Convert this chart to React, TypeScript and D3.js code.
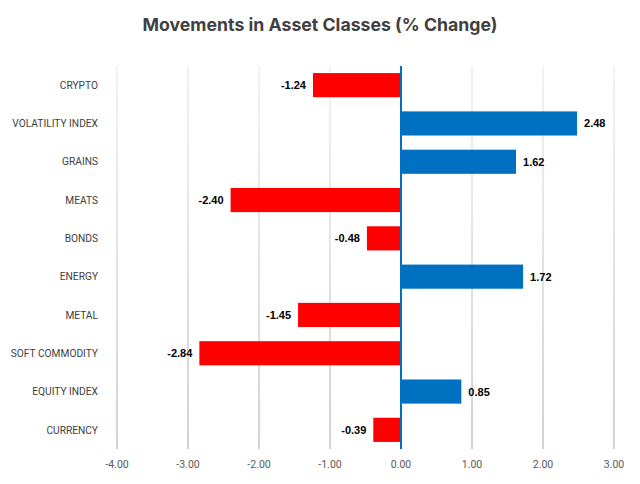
import React from "react";
import * as d3 from "d3";

const categories = [
  "CRYPTO",
  "VOLATILITY INDEX",
  "GRAINS",
  "MEATS",
  "BONDS",
  "ENERGY",
  "METAL",
  "SOFT COMMODITY",
  "EQUITY INDEX",
  "CURRENCY",
];
const values = [-1.24, 2.48, 1.62, -2.4, -0.48, 1.72, -1.45, -2.84, 0.85, -0.39];
const xTicks = [-4, -3, -2, -1, 0, 1, 2, 3];
const title = "Movements in Asset Classes (% Change)";

const W = 640;
const H = 484;
const margin = { left: 117, right: 26, top: 66, bottom: 35 };

const fmt = (v: number) => v.toFixed(2);

export default function App() {
  const x = d3.scaleLinear().domain([-4, 3]).range([margin.left, W - margin.right]);
  const y = d3
    .scaleBand<string>()
    .domain(categories)
    .range([margin.top, H - margin.bottom])
    .paddingInner(0.37)
    .paddingOuter(0.185);
  const top = margin.top;
  const bottom = H - margin.bottom;

  return (
    <svg
      width={W}
      height={H}
      style={{ position: "absolute", left: 0, top: 0, background: "#fff" }}
    >
      <defs>
        <linearGradient id="gridGrad" gradientUnits="userSpaceOnUse" x1="0" y1={top} x2="0" y2={bottom}>
          <stop offset="0" stopColor="#e6e6e6" />
          <stop offset="1" stopColor="#a6a6a6" />
        </linearGradient>
      </defs>
      <rect x={0} y={0} width={W} height={H} fill="#fff" />
      <text
        x={320}
        y={31}
        textAnchor="middle"
        fontFamily="Inter, 'Open Sans', sans-serif"
        fontWeight={700}
        fontSize={17.7}
        fill="#404040"
      >
        {title}
      </text>
      {xTicks.map((t) =>
        t === 0 ? null : (
          <line
            key={"g" + t}
            x1={x(t)}
            x2={x(t)}
            y1={top}
            y2={bottom}
            stroke="url(#gridGrad)"
            strokeWidth={1}
          />
        )
      )}
      {categories.map((c, i) => {
        const v = values[i];
        const x0 = x(Math.min(0, v));
        const x1 = x(Math.max(0, v));
        const yy = y(c)!;
        const cy = yy + y.bandwidth() / 2;
        return (
          <g key={c}>
            <rect x={x0} y={yy} width={x1 - x0} height={y.bandwidth()} fill={v < 0 ? "#FF0000" : "#0070C0"} />
            <text
              x={v < 0 ? x0 - 7 : x1 + 7}
              y={cy + 4}
              textAnchor={v < 0 ? "end" : "start"}
              fontFamily="'Liberation Sans', Arial, sans-serif"
              fontWeight={700}
              fontSize={11}
              fill="#000"
            >
              {fmt(v)}
            </text>
            <text
              x={98}
              y={cy + 3.7}
              textAnchor="end"
              fontFamily="Roboto, 'Liberation Sans', sans-serif"
              fontSize={10.2}
              fill="#404040"
            >
              {c}
            </text>
          </g>
        );
      })}
      <line x1={x(0)} x2={x(0)} y1={top} y2={bottom} stroke="#0070C0" strokeWidth={2} />
      {xTicks.map((t) => (
        <text
          key={"t" + t}
          x={x(t)}
          y={468}
          textAnchor="middle"
          fontFamily="Roboto, 'Liberation Sans', sans-serif"
          fontSize={10.5}
          fill="#595959"
        >
          {fmt(t)}
        </text>
      ))}
    </svg>
  );
}
